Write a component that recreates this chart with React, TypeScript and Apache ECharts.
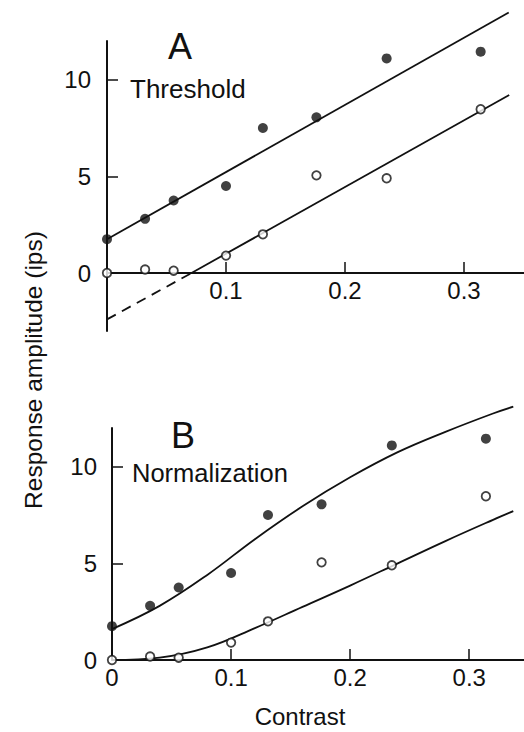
import React, { useEffect, useRef } from "react";
import * as echarts from "echarts";

// Contrast values of the measured points (shared by both panels)
const contrast = [0, 0.032, 0.056, 0.1, 0.131, 0.176, 0.235, 0.314];
// Filled circles and open circles (response amplitude, ips)
const filledResp = [1.75, 2.8, 3.75, 4.5, 7.5, 8.05, 11.1, 11.45];
const openResp = [0, 0.18, 0.12, 0.9, 2.0, 5.05, 4.9, 8.47];

// Panel A: threshold model fits (straight lines)
const thrFilledFitX = [0, 0.3376];
const thrFilledFitY = [1.75, 13.47];
const thrOpenFitX = [0.071, 0.338];
const thrOpenFitY = [0, 9.21];
const thrOpenExtX = [0, 0.071];
const thrOpenExtY = [-2.4, 0];

// Panel B: normalization model fits (curves)
const normFilledX = [0, 0.04, 0.08, 0.12, 0.16, 0.2, 0.24, 0.28, 0.32, 0.337];
const normFilledY = [1.6, 2.8, 4.4, 6.25, 7.95, 9.45, 10.75, 11.8, 12.75, 13.1];
const normOpenX = [0, 0.04, 0.08, 0.12, 0.16, 0.2, 0.24, 0.28, 0.32, 0.337];
const normOpenY = [0, 0.12, 0.65, 1.65, 2.75, 3.85, 5.0, 6.15, 7.25, 7.7];

// Tick positions
const xTicksA = [0.1, 0.2, 0.3];
const xTicksB = [0, 0.1, 0.2, 0.3];
const yTicks = [0, 5, 10];

const FONT = "Liberation Sans, Arial, Helvetica, sans-serif";
const INK = "#111";

// Panel A y range: -3 .. 12 over 290 px, so the zero line sits 3/15 of the height above the bottom
const A_TOP = 41;
const A_HEIGHT = 290;
const A_YMIN = -3;
const A_YMAX = 12;
const A_ZERO_OFFSET = -(A_HEIGHT * (0 - A_YMIN)) / (A_YMAX - A_YMIN);

const zip = (xs: number[], ys: number[]) => xs.map((x, i) => [x, ys[i]]);

export default function App() {
  const ref = useRef<HTMLDivElement>(null);
  useEffect(() => {
    if (!ref.current) return;
    const chart = echarts.init(ref.current, undefined, { renderer: "svg" });

    const xAxisBase = (grid: number, max: number, ticks: number[], showZero: boolean, offset: number) => ({
      type: "value",
      gridIndex: grid,
      min: 0,
      max,
      interval: 0.1,
      offset,
      axisLine: { show: true, onZero: false, lineStyle: { color: INK, width: 2 } },
      axisTick: {
        show: true,
        inside: true,
        length: 11,
        customValues: ticks,
        lineStyle: { color: INK, width: 1.5 },
      },
      axisLabel: {
        show: true,
        fontSize: 24,
        fontFamily: FONT,
        color: INK,
        margin: 5,
        showMaxLabel: false,
        formatter: (v: number) => {
          if (v > 0.33) return "";
          if (v < 0.05) return showZero ? "0" : "";
          return String(Math.round(v * 10) / 10);
        },
      },
      splitLine: { show: false },
    });
    const yAxisBase = (grid: number, min: number, max: number, margin: number) => ({
      type: "value",
      gridIndex: grid,
      min,
      max,
      axisLine: { show: true, onZero: false, lineStyle: { color: INK, width: 2 } },
      axisTick: {
        show: true,
        inside: true,
        length: 11,
        customValues: yTicks,
        lineStyle: { color: INK, width: 1.5 },
      },
      axisLabel: {
        show: true,
        customValues: yTicks,
        fontSize: 24,
        fontFamily: FONT,
        color: INK,
        margin,
      },
      splitLine: { show: false },
    });

    const fitLine = (xi: number, data: number[][], dashed = false, smooth = false) => ({
      type: "line",
      xAxisIndex: xi,
      yAxisIndex: xi,
      data,
      showSymbol: false,
      symbol: "none",
      clip: false,
      smooth: smooth ? 0.4 : false,
      lineStyle: { color: INK, width: 1.8, type: dashed ? [10, 7] : "solid" },
      z: 2,
      silent: true,
    });
    const filledDots = (xi: number) => ({
      type: "scatter",
      xAxisIndex: xi,
      yAxisIndex: xi,
      data: zip(contrast, filledResp),
      symbol: "circle",
      symbolSize: 10,
      clip: false,
      itemStyle: { color: INK },
      z: 4,
    });
    const openDots = (xi: number) => ({
      type: "scatter",
      xAxisIndex: xi,
      yAxisIndex: xi,
      data: zip(contrast, openResp),
      symbol: "circle",
      symbolSize: 8.5,
      clip: false,
      itemStyle: { color: "#fff", borderColor: INK, borderWidth: 1.8 },
      z: 5,
    });

    const textStyle = (size: number) => ({ fontSize: size, fontFamily: FONT, fill: INK });

    chart.setOption({
      animation: false,
      backgroundColor: "#fff",
      grid: [
        { left: 107, top: A_TOP, width: 416.5, height: A_HEIGHT },
        { left: 112, top: 428, width: 412, height: 232 },
      ],
      xAxis: [
        xAxisBase(0, 0.35, xTicksA, false, A_ZERO_OFFSET),
        xAxisBase(1, 0.346, xTicksB, true, 0),
      ],
      yAxis: [yAxisBase(0, A_YMIN, A_YMAX, 16), yAxisBase(1, 0, 12, 15)],
      series: [
        fitLine(0, zip(thrFilledFitX, thrFilledFitY)),
        fitLine(0, zip(thrOpenFitX, thrOpenFitY)),
        fitLine(0, zip(thrOpenExtX, thrOpenExtY), true),
        filledDots(0),
        openDots(0),
        fitLine(1, zip(normFilledX, normFilledY), false, true),
        fitLine(1, zip(normOpenX, normOpenY), false, true),
        filledDots(1),
        openDots(1),
      ],
      graphic: [
        { type: "text", x: 180, y: 46, style: { ...textStyle(36), text: "A", textAlign: "center", textVerticalAlign: "middle" } },
        { type: "text", x: 130, y: 89, style: { ...textStyle(26), text: "Threshold", textAlign: "left", textVerticalAlign: "middle" } },
        { type: "text", x: 183, y: 435, style: { ...textStyle(36), text: "B", textAlign: "center", textVerticalAlign: "middle" } },
        { type: "text", x: 132, y: 473, style: { ...textStyle(25.5), text: "Normalization", textAlign: "left", textVerticalAlign: "middle" } },
        { type: "text", x: 33, y: 370, rotation: Math.PI / 2, style: { ...textStyle(24.5), text: "Response amplitude (ips)", textAlign: "center", textVerticalAlign: "middle" } },
        { type: "text", x: 300, y: 716, style: { ...textStyle(24), text: "Contrast", textAlign: "center", textVerticalAlign: "middle" } },
      ],
    });
    return () => chart.dispose();
  }, []);
  return (
    <div
      ref={ref}
      style={{ position: "absolute", left: 0, top: 0, width: 524, height: 732, background: "#fff" }}
    />
  );
}
